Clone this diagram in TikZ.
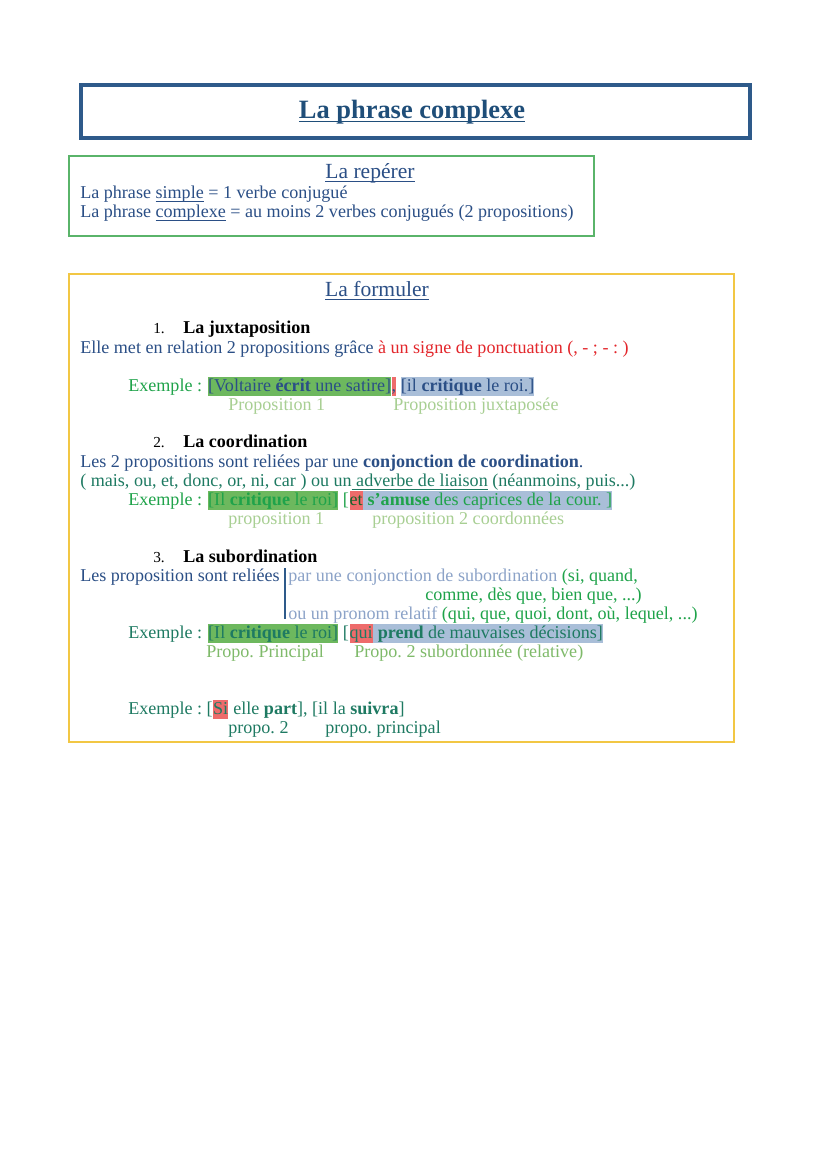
\documentclass[tikz,border=0pt]{standalone}
\usepackage{fontspec}
\setmainfont{Liberation Serif}
\usetikzlibrary{positioning}

\definecolor{bleutitre}{HTML}{1F4E79}
\definecolor{bleucadre}{HTML}{2E5A8A}
\definecolor{bleutexte}{HTML}{2B4F86}
\definecolor{cadrevert}{HTML}{5AB46A}
\definecolor{cadrejaune}{HTML}{F2C744}
\definecolor{rougetexte}{HTML}{E3262B}
\definecolor{vertex}{HTML}{1FA34A}
\definecolor{vertsombre}{HTML}{1E7A62}
\definecolor{vertclair}{HTML}{A8CF93}
\definecolor{vertmoyen}{HTML}{7FBA6A}
\definecolor{grisbleu}{HTML}{8CA3C8}
\definecolor{surlvert}{HTML}{6DB85E}
\definecolor{surlbleu}{HTML}{A9BED8}
\definecolor{surlrouge}{HTML}{EE6B6B}

\newcommand\souligne[1]{\setbox0\hbox{#1}\rlap{\rule[-2.4pt]{\wd0}{0.6pt}}\box0\relax}

\begin{document}
\frenchspacing
\begin{tikzpicture}[x=0.71894pt,y=-0.71894pt,
  txt/.style={anchor=base west,inner sep=0pt,font=\fontsize{13}{15}\selectfont},
  titre/.style={anchor=base,inner sep=0pt,font=\fontsize{15.5}{18}\selectfont,text=bleutexte},
  hl/.style={txt,text height=10pt,text depth=3.6pt},
  numero/.style={txt,font=\fontsize{11}{13}\selectfont}]

  \useasboundingbox[fill=white] (0,0) rectangle (828,1171);

  %% cadres
  \draw[bleucadre,line width=2.4pt] (81,85) rectangle (750,138);
  \draw[cadrevert,line width=1.1pt] (69,156) rectangle (594,236);
  \draw[cadrejaune,line width=1.3pt] (69,274) rectangle (734,742);

  \node[anchor=base,inner sep=0pt,font=\fontsize{19}{22}\selectfont\bfseries,text=bleutitre]
    (titre) at (412,118) {\souligne{La phrase complexe}};

  %% la reperer
  \node[titre] (reperer) at (370,178) {\souligne{La repérer}};
  \node[txt,text=bleutexte] (simple) at (80,198) {La phrase \souligne{simple} = 1 verbe conjugué};
  \node[txt,text=bleutexte] (complexe) at (80,217) {La phrase \souligne{complexe} = au moins 2 verbes conjugués (2 propositions)};

  %% la formuler
  \node[titre] (formuler) at (377,296) {\souligne{La formuler}};

  \node[numero] (num1) at (153,333) {1.};
  \node[txt,font=\fontsize{13}{15}\selectfont\bfseries] (juxta) at (183,333) {La juxtaposition};
  \node[txt,text=bleutexte] (juxtadef) at (80,353)
    {Elle met en relation 2 propositions grâce \textcolor{rougetexte}{à un signe de ponctuation (, - ; - : )}};
  \node[txt,text=vertex] (ex1) at (128,391) {Exemple :};
  \node[hl,fill=surlvert,text=bleutexte,base right=4pt of ex1] (ex1a) {[Voltaire \textbf{écrit} une satire]};
  \node[hl,fill=surlrouge,text=bleutexte,base right=0pt of ex1a] (ex1b) {,};
  \node[hl,fill=surlbleu,text=bleutexte,base right=3pt of ex1b] (ex1c) {[il \textbf{critique} le roi.]};
  \node[txt,text=vertclair] (p1a) at (228,410) {Proposition 1};
  \node[txt,text=vertclair] (p1b) at (393,410) {Proposition juxtaposée};

  \node[numero] (num2) at (153,447) {2.};
  \node[txt,font=\fontsize{13}{15}\selectfont\bfseries] (coord) at (183,447) {La coordination};
  \node[txt,text=bleutexte] (coorddef) at (80,467)
    {Les 2 propositions sont reliées par une \textbf{conjonction de coordination}.};
  \node[txt,text=vertsombre] (coordliste) at (80,486)
    {( mais, ou, et, donc, or, ni, car ) ou un\souligne{ adverbe de liaison} (néanmoins, puis...)};
  \node[txt,text=vertex] (ex2) at (128,505) {Exemple :};
  \node[hl,fill=surlvert,text=vertex,base right=4pt of ex2] (ex2a) {[Il \textbf{critique} le roi]};
  \node[txt,text=vertex,base right=3pt of ex2a] (ex2b) {[};
  \node[hl,fill=surlrouge,text=vertex!60!black,base right=0pt of ex2b] (ex2c) {et};
  \node[hl,fill=surlbleu,text=vertex,base right=0pt of ex2c] (ex2d) {~\textbf{s’amuse} des caprices de la cour. ]};
  \node[txt,text=vertclair] (p2a) at (228,524) {proposition 1};
  \node[txt,text=vertclair] (p2b) at (372,524) {proposition 2 coordonnées};

  \node[numero] (num3) at (153,562) {3.};
  \node[txt,font=\fontsize{13}{15}\selectfont\bfseries] (subord) at (183,562) {La subordination};
  \node[txt,text=bleutexte] (subdef) at (80,581) {Les proposition sont reliées};
  \node[txt,text=grisbleu] (conj) at (288,581)
    {par une conjonction de subordination \textcolor{vertex}{(si, quand,}};
  \node[txt,text=vertex] (conjsuite) at (425,600) {comme, dès que, bien que, ...)};
  \node[txt,text=grisbleu] (pron) at (288,619)
    {ou un pronom relatif \textcolor{vertex}{(qui, que, quoi, dont, où, lequel, ...)}};
  \draw[bleucadre,line width=1.8pt] ([xshift=-2pt]conj.north west) -- ([xshift=-2pt]pron.base west);
  \node[txt,text=vertsombre] (ex3) at (128,638) {Exemple :};
  \node[hl,fill=surlvert,text=vertsombre,base right=4pt of ex3] (ex3a) {[Il \textbf{critique} le roi]};
  \node[txt,text=vertsombre,base right=3pt of ex3a] (ex3b) {[};
  \node[hl,fill=surlrouge,text=vertsombre,base right=0pt of ex3b] (ex3c) {qui};
  \node[hl,fill=surlbleu,text=vertsombre,base right=0pt of ex3c] (ex3d) {~\textbf{prend} de mauvaises décisions]};
  \node[txt,text=vertmoyen] (p3a) at (206,657) {Propo. Principal};
  \node[txt,text=vertmoyen] (p3b) at (354,657) {Propo. 2 subordonnée (relative)};

  \node[txt,text=vertsombre] (ex4) at (128,714) {Exemple : [};
  \node[hl,fill=surlrouge,text=vertsombre,base right=0pt of ex4] (ex4a) {Si};
  \node[txt,text=vertsombre,base right=0pt of ex4a] (ex4b) {~elle \textbf{part}], [il la \textbf{suivra}]};
  \node[txt,text=vertsombre] (p4a) at (228,733) {propo. 2};
  \node[txt,text=vertsombre] (p4b) at (325,733) {propo. principal};
\end{tikzpicture}
\end{document}
